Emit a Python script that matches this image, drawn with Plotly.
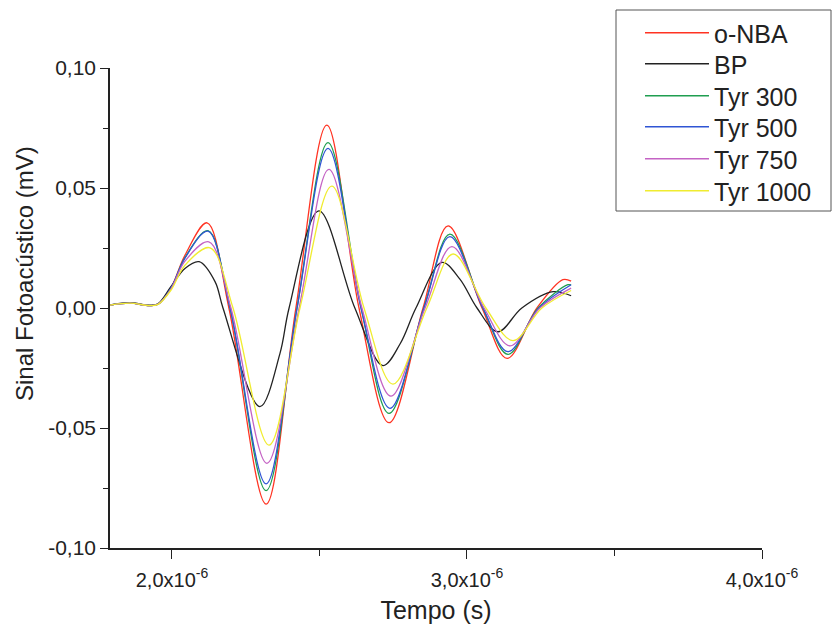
import plotly.graph_objects as go

# Time in microseconds (converted to seconds when plotting), signal in mV
t_onba = [1.790,1.858,1.925,1.953,1.997,2.044,2.119,2.193,2.319,2.420,2.525,2.634,2.736,2.851,2.936,3.051,3.136,3.237,3.325,3.353]
v_onba = [0.0012,0.0020,0.0010,0.0016,0.0085,0.0220,0.0355,0.0,-0.0817,0.0,0.0762,0.0,-0.0478,0.0,0.0342,0.0,-0.0210,0.0,0.0118,0.0112]

t_bp = [1.790,1.858,1.925,1.953,1.997,2.044,2.092,2.146,2.173,2.298,2.366,2.397,2.498,2.620,2.715,2.773,2.827,2.915,2.976,3.034,3.105,3.186,3.292,3.353]
v_bp = [0.0013,0.0022,0.0012,0.0018,0.0090,0.0165,0.0193,0.0110,0.0,-0.0411,-0.0190,0.0,0.0405,0.0,-0.0240,-0.0150,0.0,0.0190,0.0120,0.0,-0.0099,0.0,0.0068,0.0051]

t_300 = [1.790,1.858,1.925,1.953,1.997,2.044,2.122,2.197,2.319,2.424,2.529,2.641,2.736,2.854,2.942,3.054,3.139,3.241,3.342,3.353]
v_300 = [0.0012,0.0020,0.0010,0.0016,0.0083,0.0210,0.0322,0.0,-0.0761,0.0,0.0689,0.0,-0.0439,0.0,0.0308,0.0,-0.0193,0.0,0.0097,0.0096]

t_500 = [1.790,1.858,1.925,1.953,1.997,2.044,2.122,2.197,2.319,2.424,2.529,2.641,2.739,2.854,2.942,3.054,3.139,3.244,3.353]
v_500 = [0.0012,0.0020,0.0010,0.0016,0.0083,0.0208,0.0320,0.0,-0.0733,0.0,0.0665,0.0,-0.0418,0.0,0.0297,0.0,-0.0182,0.0,0.0097]

t_750 = [1.790,1.858,1.925,1.953,1.997,2.044,2.125,2.200,2.322,2.431,2.532,2.644,2.742,2.858,2.949,3.058,3.146,3.247,3.353]
v_750 = [0.0012,0.0020,0.0010,0.0016,0.0080,0.0195,0.0276,0.0,-0.0647,0.0,0.0578,0.0,-0.0367,0.0,0.0256,0.0,-0.0158,0.0,0.0083]

t_1000 = [1.790,1.858,1.925,1.953,1.997,2.044,2.129,2.207,2.329,2.434,2.542,2.651,2.749,2.864,2.953,3.064,3.156,3.254,3.353]
v_1000 = [0.0012,0.0020,0.0010,0.0015,0.0075,0.0178,0.0251,0.0,-0.0571,0.0,0.0508,0.0,-0.0317,0.0,0.0225,0.0,-0.0136,0.0,0.0073]

series_names = ["o-NBA", "BP", "Tyr 300", "Tyr 500", "Tyr 750", "Tyr 1000"]
series_t = [t_onba, t_bp, t_300, t_500, t_750, t_1000]
series_v = [v_onba, v_bp, v_300, v_500, v_750, v_1000]
series_colors = ["#ff3322", "#222222", "#1f9e50", "#2f55d4", "#c463c4", "#f0ec30"]

x_tick_vals = [2.0, 3.0, 4.0]
x_tick_text = ["2,0x10<sup>-6</sup>", "3,0x10<sup>-6</sup>", "4,0x10<sup>-6</sup>"]
y_tick_vals = [-0.10, -0.05, 0.0, 0.05, 0.10]
y_tick_text = ["-0,10", "-0,05", "0,00", "0,05", "0,10"]

FONT = "Liberation Sans, Arial, sans-serif"
W, H = 832, 630
ML, MR, MT, MB = 110, 70, 68, 82
PW, PH = W - ML - MR, H - MT - MB

def px_x(px):
    return (px - ML) / PW

def px_y(py):
    return (H - MB - py) / PH

fig = go.Figure()
legend_rows_px = [33, 64, 96, 127, 159, 191]
legend_layouts = {}
for i in range(len(series_names)):
    lname = "legend" if i == 0 else f"legend{i + 1}"
    fig.add_trace(go.Scatter(
        x=[t * 1e-6 for t in series_t[i]],
        y=series_v[i],
        mode="lines",
        name=series_names[i],
        legend=lname,
        line=dict(color=series_colors[i], width=1.3, shape="spline", smoothing=1.0),
    ))
    legend_layouts[lname] = dict(
        x=px_x(640), y=px_y(legend_rows_px[i]), xanchor="left", yanchor="middle",
        bgcolor="rgba(0,0,0,0)", borderwidth=0,
        font=dict(family=FONT, size=25, color="#222222"),
        itemwidth=64,
    )

# legend frame
fig.add_shape(type="rect", xref="paper", yref="paper",
              x0=px_x(616), x1=px_x(831), y0=px_y(211), y1=px_y(10),
              line=dict(color="#555555", width=1), fillcolor="white", layer="below")

# y-axis title
fig.add_annotation(text="Sinal Fotoacústico (mV)", xref="paper", yref="paper",
                   x=px_x(24), y=px_y(274), xanchor="center", yanchor="middle",
                   textangle=-90, showarrow=False,
                   font=dict(family=FONT, size=24, color="#222222"))

fig.update_layout(
    width=W, height=H,
    margin=dict(l=ML, r=MR, t=MT, b=MB, autoexpand=False),
    paper_bgcolor="white", plot_bgcolor="white",
    font=dict(family=FONT, color="#222222", size=21),
    showlegend=True,
    **legend_layouts,
)

fig.update_xaxes(
    range=[1.79e-6, 4.0e-6],
    tickmode="array",
    tickvals=[v * 1e-6 for v in x_tick_vals],
    ticktext=x_tick_text,
    ticks="outside", ticklen=9, tickwidth=1.3, tickcolor="#222222",
    minor=dict(tickmode="array", tickvals=[2.5e-6, 3.5e-6], ticks="outside", ticklen=6, tickwidth=1.3, tickcolor="#222222"),
    showline=True, linecolor="#222222", linewidth=1.5,
    showgrid=False, zeroline=False,
    tickfont=dict(size=20),
    ticklabelstandoff=4,
    title=dict(text="Tempo (s)", font=dict(size=25), standoff=12),
)
fig.update_yaxes(
    range=[-0.10, 0.10],
    tickmode="array",
    tickvals=y_tick_vals,
    ticktext=y_tick_text,
    ticks="outside", ticklen=8, tickwidth=1.3, tickcolor="#222222",
    minor=dict(tickmode="array", tickvals=[-0.075, -0.025, 0.025, 0.075], ticks="outside", ticklen=5, tickwidth=1.3, tickcolor="#222222"),
    showline=True, linecolor="#222222", linewidth=1.5,
    showgrid=False, zeroline=False,
    tickfont=dict(size=21),
)

fig.write_html("out.html")
